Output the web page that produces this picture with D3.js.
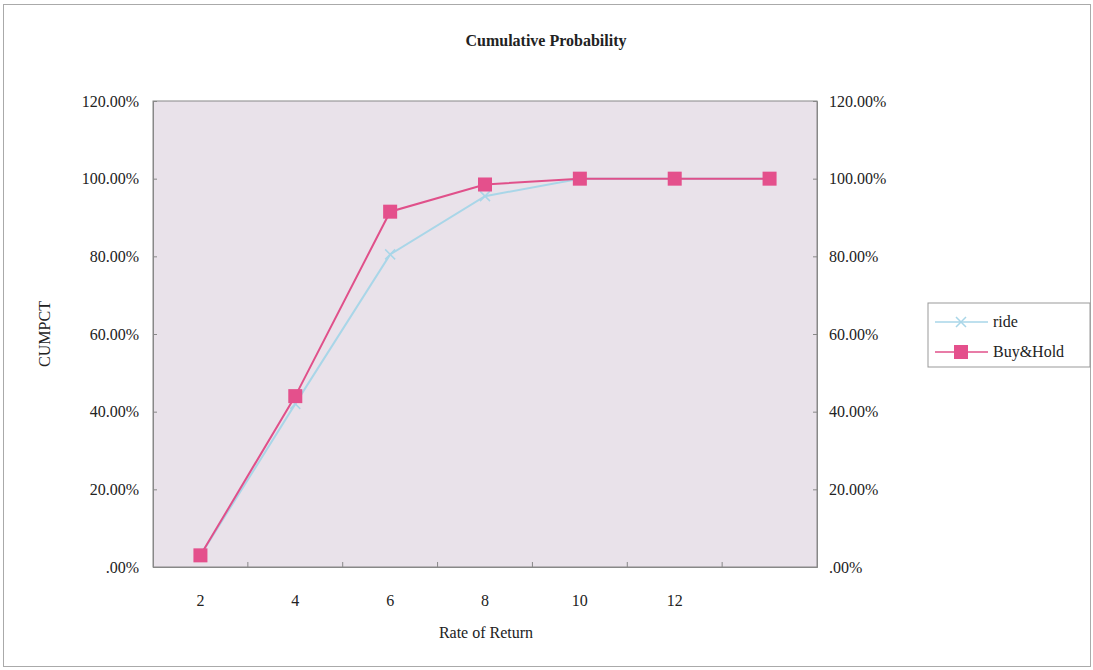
<!DOCTYPE html>
<html>
<head>
    <meta charset="utf-8">
    <script src="https://d3js.org/d3.v7.min.js"></script>
    <style>
        body { margin: 0; background: #fff; }
        text { font-family: "Liberation Serif", "DejaVu Serif", serif; fill: #222; }
    </style>
</head>
<body>
    <div id="my_dataviz"></div>
    <script>
        // categories on the x axis (last one has no label in the original)
        var categories = ["2", "4", "6", "8", "10", "12", "14"];
        var tickLabels = ["2", "4", "6", "8", "10", "12", ""];
        // cumulative percentages
        var ride = [0.03, 0.42, 0.805, 0.955, 1.0, 1.0, 1.0];
        var buyHold = [0.03, 0.44, 0.915, 0.985, 1.0, 1.0, 1.0];
        var yTicks = [0, 0.2, 0.4, 0.6, 0.8, 1.0, 1.2];

        var W = 1093, H = 670;
        var margin = { top: 101, left: 153, right: 276, bottom: 103 },
            width = W - margin.left - margin.right,
            height = H - margin.top - margin.bottom;

        var svg = d3.select("#my_dataviz")
            .append("svg")
            .attr("width", W)
            .attr("height", H);

        // outer frame
        svg.append("rect")
            .attr("x", 3.5).attr("y", 4.5)
            .attr("width", W - 6).attr("height", H - 8)
            .attr("fill", "#fff")
            .attr("stroke", "#aaa");

        svg.append("text")
            .attr("x", 546).attr("y", 46)
            .attr("text-anchor", "middle")
            .style("font-size", "16px")
            .style("font-weight", "bold")
            .text("Cumulative Probability");

        var g = svg.append("g")
            .attr("transform", "translate(" + margin.left + "," + margin.top + ")");

        var x = d3.scaleBand().domain(categories).range([0, width]);
        var y = d3.scaleLinear().domain([0, 1.2]).range([height, 0]);

        var pct = function (v) { return d3.format(".2%")(v).replace(/^0\./, "."); };

        // plot area
        g.append("rect")
            .attr("width", width).attr("height", height)
            .attr("fill", "#e9e2ea")
            .attr("stroke", "#888");

        // left axis
        var yl = g.append("g")
            .call(d3.axisLeft(y).tickValues(yTicks).tickFormat(pct).tickSize(-4).tickPadding(14));
        // right axis
        var yr = g.append("g")
            .attr("transform", "translate(" + width + ",0)")
            .call(d3.axisRight(y).tickValues(yTicks).tickFormat(pct).tickSize(-4).tickPadding(12));
        // bottom axis: ticks between categories
        var xa = g.append("g")
            .attr("transform", "translate(0," + height + ")")
            .call(d3.axisBottom(x).tickFormat(function (d, i) { return tickLabels[i]; }).tickSize(0).tickPadding(28));
        xa.selectAll(".tick").filter(function (d, i) { return i > 0; })
            .append("line")
            .attr("x1", -x.step() / 2).attr("x2", -x.step() / 2)
            .attr("y1", 0).attr("y2", -5)
            .attr("stroke", "#888");

        [yl, yr, xa].forEach(function (a) {
            a.select(".domain").attr("stroke", "#888");
            a.selectAll(".tick line").attr("stroke", "#888");
            a.selectAll("text").style("font-size", "16px")
                .style("font-family", "'Liberation Serif', serif").attr("fill", "#222");
        });

        // axis titles
        svg.append("text")
            .attr("transform", "translate(50," + (margin.top + height / 2) + ") rotate(-90)")
            .attr("text-anchor", "middle")
            .style("font-size", "16px")
            .text("CUMPCT");
        svg.append("text")
            .attr("x", 486).attr("y", 638)
            .attr("text-anchor", "middle")
            .style("font-size", "16px")
            .text("Rate of Return");

        var cx = function (d, i) { return x(categories[i]) + x.bandwidth() / 2; };
        var line = d3.line().x(cx).y(function (d) { return y(d); });

        // ride series
        g.append("path")
            .datum(ride)
            .attr("fill", "none")
            .attr("stroke", "#a9d6e8")
            .attr("stroke-width", 2)
            .attr("d", line);
        g.selectAll(".ridept")
            .data(ride)
            .enter().append("path")
            .attr("transform", function (d, i) { return "translate(" + cx(d, i) + "," + y(d) + ")"; })
            .attr("d", "M-5,-5L5,5M-5,5L5,-5")
            .attr("stroke", "#a9d6e8")
            .attr("stroke-width", 1.5);

        // Buy&Hold series
        g.append("path")
            .datum(buyHold)
            .attr("fill", "none")
            .attr("stroke", "#e0508a")
            .attr("stroke-width", 2)
            .attr("d", line);
        g.selectAll(".bhpt")
            .data(buyHold)
            .enter().append("rect")
            .attr("x", function (d, i) { return cx(d, i) - 7; })
            .attr("y", function (d) { return y(d) - 7; })
            .attr("width", 14).attr("height", 14)
            .attr("fill", "#e4508c");

        // legend
        var leg = svg.append("g").attr("transform", "translate(928,303)");
        leg.append("rect")
            .attr("width", 162).attr("height", 64)
            .attr("fill", "#fff").attr("stroke", "#999");
        var items = [
            { name: "ride", color: "#a9d6e8", mark: "x" },
            { name: "Buy&Hold", color: "#e0508a", mark: "sq" }
        ];
        items.forEach(function (it, i) {
            var yy = 19 + i * 30;
            leg.append("line")
                .attr("x1", 7).attr("x2", 60).attr("y1", yy).attr("y2", yy)
                .attr("stroke", it.color).attr("stroke-width", 1.5);
            if (it.mark === "x") {
                leg.append("path")
                    .attr("d", "M" + (33 - 5) + "," + (yy - 5) + "L" + (33 + 5) + "," + (yy + 5) +
                        "M" + (33 - 5) + "," + (yy + 5) + "L" + (33 + 5) + "," + (yy - 5))
                    .attr("stroke", it.color).attr("stroke-width", 1.5);
            } else {
                leg.append("rect")
                    .attr("x", 26).attr("y", yy - 7).attr("width", 14).attr("height", 14)
                    .attr("fill", "#e4508c");
            }
            leg.append("text")
                .attr("x", 65).attr("y", yy + 5)
                .style("font-size", "16px")
                .text(it.name);
        });
    </script>
</body>
</html>
